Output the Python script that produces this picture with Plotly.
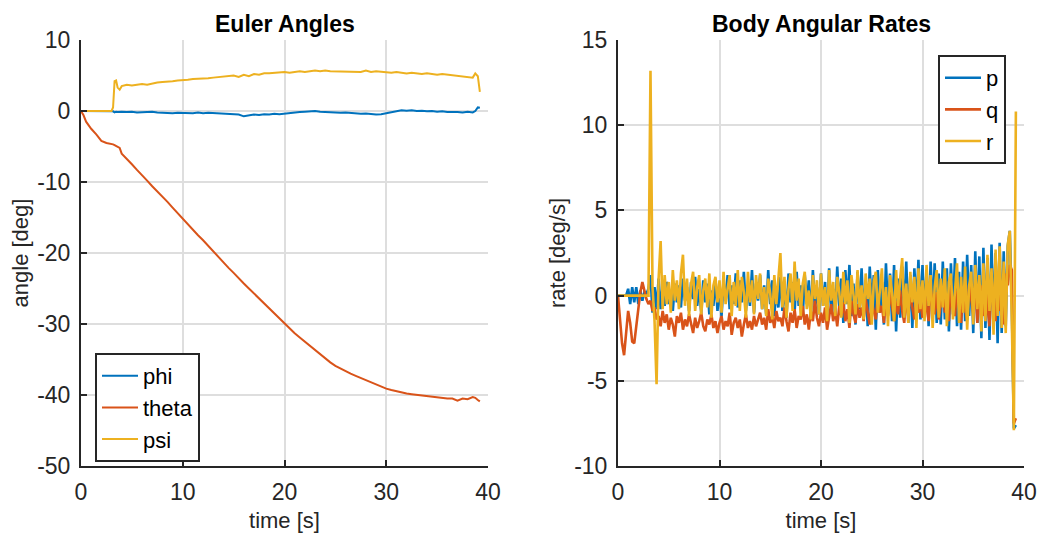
import plotly.graph_objects as go

# ---------------- Euler angles ----------------
t_euler_early = [0, 0.25, 0.5, 0.75, 1.0, 1.5, 2.0, 2.5, 3.0, 3.15, 3.3, 3.45, 3.6, 3.8]
t_euler_mid = [4.0 + 0.5 * i for i in range(70)]  # 4.0 ... 38.5
t_euler_end = [38.75, 39.0, 39.2]
t_euler = t_euler_early + t_euler_mid + t_euler_end

phi = [0, 0, 0, 0, 0, 0, 0, 0, 0, -0.05, -0.2, -0.1, -0.15, -0.1,
       -0.1, -0.15, -0.1, -0.2, -0.15, -0.2, -0.1, -0.2, -0.25, -0.2,
       -0.3, -0.25, -0.3, -0.25, -0.3, -0.2, -0.3, -0.25, -0.3, -0.35,
       -0.3, -0.4, -0.45, -0.5, -0.75, -0.6, -0.5, -0.55, -0.45, -0.5,
       -0.4, -0.45, -0.35, -0.3, -0.25, -0.15, -0.1, -0.05, 0.0, -0.1,
       -0.15, -0.1, -0.2, -0.25, -0.2, -0.3, -0.35, -0.4, -0.35, -0.45,
       -0.5, -0.45, -0.3, -0.1, 0.05, 0.1, 0.05, 0.1, 0.0, 0.05,
       -0.05, 0.0, -0.1, -0.05, -0.15, -0.1, -0.15, -0.2, -0.1, -0.2,
       0.0, 0.5, 0.45]

theta = [0, -0.6, -1.5, -2.1, -2.5, -3.3, -4.2, -4.5, -4.6, -4.7, -4.8, -4.9, -5.0, -5.2,
         -6.0, -6.7, -7.5, -8.3, -9.0, -9.8, -10.6, -11.3, -12.1, -12.8,
         -13.6, -14.4, -15.2, -15.9, -16.7, -17.5, -18.2, -19.0, -19.8, -20.6,
         -21.3, -22.1, -22.8, -23.6, -24.3, -25.0, -25.7, -26.4, -27.1, -27.8,
         -28.6, -29.3, -30.0, -30.7, -31.3, -31.9, -32.5, -33.1, -33.7, -34.2,
         -34.8, -35.4, -35.9, -36.3, -36.7, -37.0, -37.3, -37.6, -37.9, -38.3,
         -38.6, -38.9, -39.1, -39.3, -39.5, -39.6, -39.8, -39.9, -40.0, -40.1,
         -40.2, -40.3, -40.3, -40.4, -40.5, -40.5, -40.8, -40.5, -40.6, -40.3,
         -40.4, -40.7, -40.9]

psi = [0, 0, 0, 0, 0, 0, 0, 0, 0, 0.5, 4.2, 4.3, 3.3, 3.0,
       3.5, 3.7, 3.6, 3.7, 3.8, 3.7, 3.9, 4.0, 4.1, 4.1,
       4.2, 4.3, 4.3, 4.4, 4.5, 4.5, 4.6, 4.6, 4.7, 4.8,
       4.8, 4.9, 5.0, 4.8, 5.1, 4.9, 5.2, 5.1, 5.3, 5.3,
       5.4, 5.5, 5.5, 5.4, 5.5, 5.6, 5.5, 5.6, 5.7, 5.6,
       5.7, 5.6, 5.6, 5.5, 5.6, 5.5, 5.6, 5.5, 5.7, 5.5,
       5.6, 5.5, 5.5, 5.4, 5.5, 5.4, 5.3, 5.4, 5.3, 5.2,
       5.3, 5.2, 5.1, 5.2, 5.1, 5.0, 5.0, 4.9, 4.8, 4.7,
       5.3, 4.9, 2.7]

# ---------------- Body angular rates ----------------
t_rate = [round(0.2 * i, 1) for i in range(197)]  # 0 ... 39.2 s

p_rate = [0, 0, 0, 0, 0, 0.4, -0.5, 0.5, -0.4, 0.5,
          -0.5, 0.3, -0.3, 0.2, 0.1, 0.4, 1.2, -1.0, 0.5, -0.8,
          1.0, -0.8, 0.6, -0.6, 0.8, -0.5, 0.3, -0.9, 0.7, -0.4,
          0.6, -0.7, 1.0, -0.3, 0.5, -0.9, 0.8, -0.2, 1.1, -0.6,
          0.4, -1.0, 0.9, -0.4, 0.7, -1.1, 0.3, -0.6, 1.0, -0.9,
          0.5, -1.2, 0.8, -0.3, 1.2, -0.8, 0.6, -0.5, 1.3, -0.7,
          0.9, -0.4, 1.4, -0.9, 0.5, -0.6, 1.5, -1.0, 0.7, -0.3,
          1.2, -0.8, 0.6, -1.1, 1.5, -0.5, 0.9, -1.2, 0.4, -0.7,
          1.1, -0.9, 0.7, -1.3, 1.3, -0.4, 0.8, -1.0, 1.4, -0.6,
          0.6, -1.2, 1.2, -0.5, 0.9, -1.4, 1.5, -0.8, 0.5, -1.1,
          1.3, -0.6, 0.8, -1.5, 1.6, -0.9, 0.4, -1.3, 1.7, -0.7,
          1.0, -1.6, 1.5, -0.5, 1.8, -1.2, 0.7, -1.7, 1.4, -0.8,
          1.6, -1.4, 0.9, -1.8, 1.7, -0.6, 1.2, -2.0, 1.5, -1.0,
          0.8, -1.7, 1.9, -1.1, 1.3, -1.5, 1.8, -2.1, 1.0, -1.3,
          1.7, -1.0, 2.0, -1.6, 1.2, -1.9, 1.6, -0.8, 2.1, -1.4,
          1.8, -1.2, 1.5, -1.8, 2.0, -1.0, 1.9, -1.6, 1.3, -1.7,
          2.0, -1.4, 1.6, -2.1, 1.9, -1.1, 2.2, -1.8, 1.4, -2.0,
          2.0, -1.5, 2.4, -1.2, 1.8, -2.2, 2.6, -1.6, 2.3, -2.5,
          2.8, -1.9, 2.2, -2.6, 3.0, -1.7, 2.5, -2.8, 3.1, -2.2,
          2.6, -1.8, 2.9, 3.8, -0.5, -7.8, -7.6]

q_rate = [0, -1.2, -2.8, -3.5, -2.2, -0.9, -1.6, -2.7, -2.8, -1.8,
          -0.6, 0.2, 0.8, 0.3, -0.2, -0.5, -0.3, -0.9, -0.7, -1.4,
          -1.2, -1.8, -0.9, -1.6, -1.1, -2.0, -1.3, -1.7, -2.4, -1.2,
          -1.6, -1.0, -2.0, -1.4, -1.8, -1.1, -1.7, -2.2, -1.3, -1.9,
          -1.5, -1.0, -1.8, -2.1, -1.4, -1.7, -1.1, -1.9, -1.5, -2.2,
          -1.6, -1.2, -2.0, -1.5, -1.8, -1.0, -2.3, -1.6, -1.3, -1.9,
          -1.4, -2.4, -1.7, -1.1, -1.9, -1.5, -2.0, -1.2, -1.8, -1.4,
          -1.0, -1.7, -1.3, -2.0, -0.8, -1.6, -1.2, -1.9, -0.9, -1.5,
          -1.3, -1.8, -0.7, -1.5, -2.1, -1.0, -1.6, -0.8, -1.9, -1.2,
          -1.4, -0.6, -1.7, -1.1, -2.0, -0.9, -1.5, -0.3, -1.3, -1.8,
          -1.0, -1.6, -0.7, -2.0, -1.2, -0.5, -1.5, -0.9, -1.8, -0.6,
          -1.2, -0.4, -1.5, -0.8, -1.9, -0.3, -1.1, -1.6, -0.5, -1.3,
          -0.7, -1.5, -0.2, -1.1, -1.7, -0.4, -0.9, -1.4, 0.1, -1.0,
          -0.6, -1.6, -0.2, -1.2, 0.2, -0.8, -1.5, -0.3, -1.1, 0.3,
          -0.9, -1.6, -0.1, -1.2, 0.4, -0.7, -1.4, 0.0, -1.0, -0.4,
          -1.3, 0.3, -0.8, -1.5, 0.5, -0.5, -1.1, 0.2, -1.4, -0.3,
          0.4, -1.0, -0.2, -1.5, 0.6, -0.7, -1.2, 0.3, -0.5, -1.6,
          0.5, -0.8, -1.4, 0.7, -0.3, -1.1, 0.8, -1.6, -0.2, 0.6,
          -1.2, 0.9, -0.6, -1.8, 1.0, -0.4, -1.5, 1.2, -0.9, 0.5,
          -1.7, 1.3, 0.6, 1.8, 1.5, -7.5, -7.2]

r_rate = [0, 0, 0, 0, 0, 0, 0, 0, 0, 0,
          0, 0, 0, 0, 0, 0, 13.2, 0.5, -1.5, -5.2,
          1.0, 3.2, -0.8, 1.2, -0.5, 0.8, -1.0, 1.5, -0.3, 0.9,
          -0.8, 1.3, 2.4, -0.6, 1.0, -1.2, 0.7, 1.4, -0.9, 0.5,
          1.2, -1.1, 0.3, 1.0, -0.7, 1.3, -1.3, 0.6, 1.1, -0.4,
          0.9, -1.0, 1.4, -0.5, 0.4, 1.2, -1.2, 0.8, -0.6, 1.5,
          -0.9, 1.1, 0.2, -1.3, 1.4, -0.4, 0.9, -1.1, 1.2, -0.2,
          1.3, -0.8, 0.5, -1.2, 1.0, 0.1, -1.4, 1.2, -0.5, 1.0,
          2.5, -0.7, 1.1, -1.3, 0.4, 1.3, -0.9, 2.0, -0.3, 1.0,
          -1.2, 0.7, 1.4, -0.8, 0.3, -1.4, 1.2, -0.2, 0.9, -1.1,
          1.3, -0.6, 0.5, -1.5, 1.5, -0.3, 0.8, -1.2, 1.1, 0.2,
          -1.3, 1.4, -0.5, 0.9, -1.6, 1.2, 0.0, -1.1, 1.5, -0.7,
          0.6, -1.4, 1.3, -0.2, 1.0, -1.7, 0.8, 1.4, -1.0, 0.3,
          1.6, -1.2, 0.5, -1.8, 1.2, 0.2, -1.5, 1.5, -0.6, 1.0,
          2.2, -1.3, 0.7, -1.6, 1.4, -0.4, 1.1, -1.9, 1.6, -0.8,
          0.9, -1.5, 1.8, -0.6, 1.2, -1.9, 0.5, 1.5, -1.3, 1.0,
          -0.7, 1.6, -1.8, 0.8, 1.3, -1.4, 0.4, 1.9, -1.6, 1.1,
          -1.0, 1.7, -2.0, 0.6, 1.4, -1.7, 1.8, -0.8, 1.2, -2.1,
          1.9, -1.5, 2.4, -0.9, 1.6, -2.3, 2.7, -1.2, 2.9, -1.9,
          2.0, -2.2, 3.0, 3.8, -1.5, -7.9, 10.8]

x_ticks = [0, 10, 20, 30, 40]
y_ticks_euler = [10, 0, -10, -20, -30, -40, -50]
y_ticks_rate = [15, 10, 5, 0, -5, -10]

assert len(t_euler) == len(phi) == len(theta) == len(psi)
assert len(t_rate) == len(p_rate) == len(q_rate) == len(r_rate)

BLUE, ORANGE, YELLOW = "#0072BD", "#D95319", "#EDB120"
TXT = "#262626"
FONT = "Liberation Sans, Arial, sans-serif"

fig = go.Figure()
for name, ys, c in [("phi", phi, BLUE), ("theta", theta, ORANGE), ("psi", psi, YELLOW)]:
    fig.add_trace(go.Scatter(x=t_euler, y=ys, name=name, mode="lines",
                             line=dict(color=c, width=2), xaxis="x", yaxis="y",
                             legend="legend"))
for name, ys, c in [("p", p_rate, BLUE), ("q", q_rate, ORANGE), ("r", r_rate, YELLOW)]:
    fig.add_trace(go.Scatter(x=t_rate, y=ys, name=name, mode="lines",
                             line=dict(color=c, width=2.6), xaxis="x2", yaxis="y2",
                             legend="legend2"))

W, H = 1042, 540
L1, R1 = 81, 488
L2, R2 = 618, 1024
TOP, BOT = 40, 466

def ax(domain, rng, ticks, title, anchor, standoff):
    return dict(domain=domain, range=rng, tickvals=ticks,
                ticktext=[str(v) for v in ticks], anchor=anchor, automargin=False,
                showgrid=True, gridcolor="#dedede", gridwidth=1.5,
                zeroline=False, showline=True, linecolor=TXT, linewidth=2,
                ticks="inside", ticklen=6, tickcolor=TXT, tickwidth=1.5,
                ticklabelstandoff=4,
                tickfont=dict(family=FONT, size=23, color=TXT),
                title=dict(text=title, font=dict(family=FONT, size=22, color=TXT),
                           standoff=standoff),
                mirror=False, fixedrange=True)

legend_common = dict(xanchor="left", yanchor="top", bgcolor="white",
                     bordercolor=TXT, borderwidth=2, itemwidth=36,
                     font=dict(family=FONT, size=22, color="black"), tracegroupgap=0)

layout = dict(
    width=W, height=H, margin=dict(l=0, r=0, t=0, b=0, autoexpand=False),
    paper_bgcolor="white", plot_bgcolor="white", showlegend=True,
    xaxis=ax([L1 / W, R1 / W], [0, 40], x_ticks, "time [s]", "y", 9),
    yaxis=ax([1 - BOT / H, 1 - TOP / H], [-50, 10], y_ticks_euler, "angle [deg]", "x", 2),
    xaxis2=ax([L2 / W, R2 / W], [0, 40], x_ticks, "time [s]", "y2", 9),
    yaxis2=ax([1 - BOT / H, 1 - TOP / H], [-10, 15], y_ticks_rate, "rate [deg/s]", "x2", 2),
    legend=dict(x=95 / W, y=1 - 353 / H, **legend_common),
    legend2=dict(x=938 / W, y=1 - 55 / H, **legend_common),
    annotations=[
        dict(text="<b>Euler Angles</b>", x=(L1 + R1) / 2 / W, y=1 - 24 / H,
             xref="paper", yref="paper", showarrow=False, xanchor="center", yanchor="middle",
             font=dict(family=FONT, size=23, color="black")),
        dict(text="<b>Body Angular Rates</b>", x=(L2 + R2) / 2 / W, y=1 - 24 / H,
             xref="paper", yref="paper", showarrow=False, xanchor="center", yanchor="middle",
             font=dict(family=FONT, size=23, color="black")),
    ],
)
fig.update_layout(**layout)
fig.write_html("out.html")
